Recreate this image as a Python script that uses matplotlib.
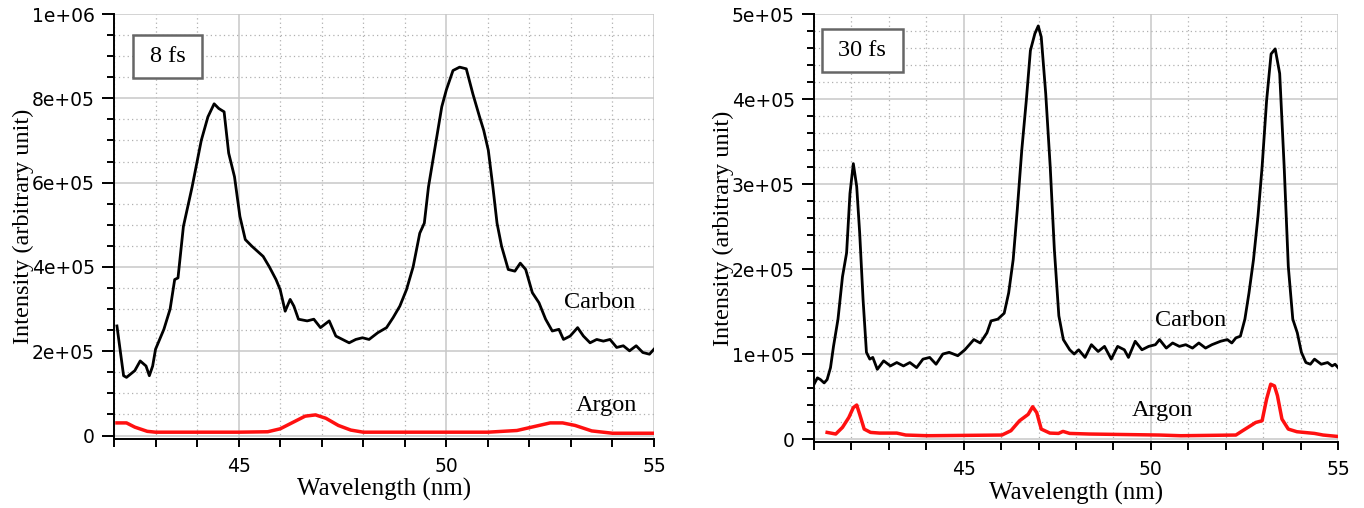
import matplotlib
matplotlib.use("Agg")
import matplotlib.pyplot as plt
from matplotlib.ticker import MultipleLocator, FuncFormatter
from matplotlib.patches import Rectangle

# ---- data (wavelength in nm, intensity in a.u.) ----
# 8 fs panel
wl_c8 = [42.07, 42.23, 42.3, 42.5, 42.63, 42.77, 42.85, 42.93, 43.0, 43.2, 43.35, 43.46, 43.54,
         43.67, 43.88, 44.1, 44.26, 44.41, 44.52, 44.65, 44.76, 44.9, 45.03, 45.16, 45.32, 45.59,
         45.74, 45.9, 46.0, 46.12, 46.24, 46.33, 46.44, 46.65, 46.81, 46.97, 47.18, 47.34, 47.5,
         47.66, 47.82, 47.98, 48.14, 48.35, 48.56, 48.72, 48.88, 49.04, 49.2, 49.36, 49.47, 49.57,
         49.73, 49.89, 50.0, 50.16, 50.32, 50.48, 50.64, 50.8, 50.9, 51.01, 51.12, 51.22, 51.33,
         51.49, 51.65, 51.78, 51.91, 52.07, 52.23, 52.39, 52.55, 52.71, 52.82, 52.98, 53.16, 53.3,
         53.46, 53.62, 53.78, 53.94, 54.1, 54.26, 54.41, 54.57, 54.73, 54.89, 55.0]
carbon_8 = [2.6e5, 1.42e5, 1.38e5, 1.54e5, 1.77e5, 1.65e5, 1.42e5, 1.65e5, 2.05e5, 2.52e5, 3.0e5,
            3.7e5, 3.74e5, 4.96e5, 5.9e5, 7.0e5, 7.56e5, 7.87e5, 7.76e5, 7.68e5, 6.7e5, 6.14e5,
            5.2e5, 4.65e5, 4.49e5, 4.25e5, 4.0e5, 3.7e5, 3.46e5, 2.95e5, 3.23e5, 3.07e5, 2.76e5,
            2.72e5, 2.76e5, 2.56e5, 2.72e5, 2.36e5, 2.28e5, 2.2e5, 2.28e5, 2.32e5, 2.28e5, 2.44e5,
            2.56e5, 2.8e5, 3.07e5, 3.46e5, 4.0e5, 4.8e5, 5.04e5, 5.9e5, 6.85e5, 7.8e5, 8.2e5,
            8.66e5, 8.74e5, 8.7e5, 8.1e5, 7.56e5, 7.24e5, 6.77e5, 5.9e5, 5.04e5, 4.49e5, 3.94e5,
            3.9e5, 4.09e5, 3.94e5, 3.39e5, 3.15e5, 2.76e5, 2.48e5, 2.52e5, 2.28e5, 2.36e5, 2.56e5,
            2.36e5, 2.2e5, 2.28e5, 2.24e5, 2.28e5, 2.09e5, 2.13e5, 2.01e5, 2.13e5, 1.97e5, 1.93e5,
            2.05e5]
wl_a8 = [42.07, 42.3, 42.5, 42.8, 43.0, 44.0, 45.0, 45.7, 46.0, 46.3, 46.6, 46.85, 47.1, 47.4,
         47.7, 48.0, 50.0, 51.0, 51.7, 52.1, 52.5, 52.8, 53.1, 53.5, 54.0, 55.0]
argon_8 = [3.0e4, 3.0e4, 2.0e4, 1.0e4, 8e3, 8e3, 8e3, 9e3, 1.6e4, 3.1e4, 4.6e4, 4.9e4, 4.1e4,
           2.4e4, 1.3e4, 8e3, 8e3, 8e3, 1.2e4, 2.1e4, 3.0e4, 3.0e4, 2.4e4, 1.1e4, 5.5e3, 5.5e3]

# 30 fs panel
wl_c30 = [41.0, 41.09, 41.17, 41.27, 41.35, 41.44, 41.52, 41.64, 41.76, 41.87, 41.96, 42.05, 42.14,
          42.22, 42.31, 42.4, 42.49, 42.57, 42.69, 42.86, 43.04, 43.21, 43.39, 43.56, 43.74, 43.91,
          44.09, 44.26, 44.44, 44.61, 44.84, 45.03, 45.27, 45.44, 45.62, 45.73, 45.91, 46.08,
          46.2, 46.32, 46.43, 46.55, 46.67, 46.78, 46.9, 46.99, 47.07, 47.19, 47.31, 47.42, 47.54,
          47.66, 47.83, 47.95, 48.07, 48.24, 48.41, 48.59, 48.76, 48.94, 49.11, 49.29, 49.4,
          49.58, 49.76, 49.94, 50.12, 50.23, 50.41, 50.58, 50.76, 50.93, 51.11, 51.28, 51.46,
          51.63, 51.86, 52.04, 52.16, 52.27, 52.39, 52.51, 52.62, 52.74, 52.86, 52.97, 53.09,
          53.21, 53.32, 53.44, 53.56, 53.67, 53.79, 53.91, 54.02, 54.14, 54.26, 54.37, 54.55,
          54.72, 54.84, 54.92, 55.0]
carbon_30 = [6.45e4, 7.2e4, 7.0e4, 6.6e4, 7.0e4, 8.4e4, 1.09e5, 1.41e5, 1.91e5, 2.19e5, 2.89e5,
             3.24e5, 2.97e5, 2.42e5, 1.64e5, 1.02e5, 9.4e4, 9.6e4, 8.2e4, 9.2e4, 8.6e4, 9.0e4,
             8.6e4, 9.0e4, 8.4e4, 9.4e4, 9.6e4, 8.8e4, 1.0e5, 1.02e5, 9.8e4, 1.05e5, 1.17e5,
             1.13e5, 1.25e5, 1.39e5, 1.41e5, 1.48e5, 1.72e5, 2.11e5, 2.7e5, 3.4e5, 3.98e5,
             4.57e5, 4.77e5, 4.86e5, 4.73e5, 4.06e5, 3.2e5, 2.23e5, 1.45e5, 1.17e5, 1.05e5,
             1.0e5, 1.05e5, 9.6e4, 1.11e5, 1.03e5, 1.09e5, 9.4e4, 1.09e5, 1.05e5, 9.6e4, 1.15e5,
             1.05e5, 1.09e5, 1.11e5, 1.17e5, 1.07e5, 1.13e5, 1.09e5, 1.11e5, 1.07e5, 1.13e5,
             1.07e5, 1.11e5, 1.15e5, 1.17e5, 1.13e5, 1.19e5, 1.21e5, 1.41e5, 1.72e5, 2.11e5,
             2.62e5, 3.2e5, 3.98e5, 4.53e5, 4.59e5, 4.3e5, 3.2e5, 2.03e5, 1.41e5, 1.25e5, 1.02e5,
             9.0e4, 8.8e4, 9.4e4, 8.8e4, 9.0e4, 8.6e4, 8.8e4, 8.4e4]
wl_a30 = [41.35, 41.58, 41.76, 41.93, 42.05, 42.14, 42.22, 42.34, 42.51, 42.75, 43.21, 43.45,
          44.03, 46.02, 46.26, 46.49, 46.72, 46.84, 46.95, 47.07, 47.3, 47.53, 47.65, 47.83,
          48.35, 50.23, 50.8, 52.27, 52.45, 52.62, 52.8, 52.97, 53.09, 53.2, 53.3, 53.38, 53.5,
          53.67, 53.9, 54.37, 54.6, 55.0]
argon_30 = [7.8e3, 5.9e3, 1.37e4, 2.54e4, 3.7e4, 4.0e4, 2.9e4, 1.17e4, 7.8e3, 7e3, 7e3, 4.7e3,
            3.9e3, 4.7e3, 9.8e3, 2.15e4, 2.9e4, 3.8e4, 3.1e4, 1.17e4, 7e3, 6.6e3, 9e3, 6.6e3,
            5.9e3, 4.7e3, 3.9e3, 4.7e3, 9.8e3, 1.45e4, 1.95e4, 2.15e4, 4.7e4, 6.45e4, 6.25e4,
            5.1e4, 2.35e4, 1.17e4, 8.6e3, 6.6e3, 4.7e3, 3e3]

serif = ["Liberation Serif", "DejaVu Serif"]


def sci_fmt(v, pos):
    if abs(v) < 1:
        return "0"
    return "%.0e" % v


def style_axes(ax, xlim, ylim, ymajor, yminor):
    ax.set_xlim(*xlim)
    ax.set_ylim(*ylim)
    ax.xaxis.set_major_locator(MultipleLocator(5))
    ax.xaxis.set_minor_locator(MultipleLocator(1))
    ax.yaxis.set_major_locator(MultipleLocator(ymajor))
    ax.yaxis.set_minor_locator(MultipleLocator(yminor))
    ax.yaxis.set_major_formatter(FuncFormatter(sci_fmt))
    ax.spines["top"].set_visible(False)
    ax.spines["right"].set_visible(False)
    ax.spines["left"].set_linewidth(1.4)
    ax.spines["bottom"].set_linewidth(1.4)
    ax.grid(which="major", color="#c8c8c8", linestyle="-", linewidth=1.1)
    ax.grid(which="minor", color="#b0b0b0", linestyle=(0, (1, 2.5)), linewidth=0.9)
    ax.set_axisbelow(True)
    ax.tick_params(axis="y", which="major", length=9, width=1.4, labelsize=13.5, pad=5)
    ax.tick_params(axis="y", which="minor", length=5, width=1.4)
    ax.tick_params(axis="x", which="major", length=6, width=1.4, labelsize=13.5, pad=7)
    ax.tick_params(axis="x", which="minor", length=6, width=1.4)
    ax.set_xlabel("Wavelength (nm)", fontsize=18, family=serif, labelpad=2)
    ax.set_ylabel("Intensity (arbitrary unit)", fontsize=17.5, family=serif, labelpad=-2)


def tag_box(ax, x0, y0, w, h, txt):
    ax.add_patch(Rectangle((x0, y0), w, h, transform=ax.transAxes, fill=True,
                           facecolor="white", edgecolor="#666666", linewidth=1.8, zorder=3))
    ax.text(x0 + w / 2, y0 + h / 2, txt, transform=ax.transAxes, ha="center", va="center",
            fontsize=17.5, family=serif, zorder=4)


fig = plt.figure(figsize=(13.64, 5.08), dpi=100)

# left panel: 8 fs
ax1 = fig.add_axes([0.0836, 0.1368, 0.3959, 0.8356])
style_axes(ax1, (42, 55), (-7000, 1e6), 2e5, 5e4)
ax1.plot(wl_c8, carbon_8, color="black", linewidth=2.0, zorder=5)
ax1.plot(wl_a8, argon_8, color="#ff1010", linewidth=2.5, zorder=5)
ax1.text(53.7, 3.15e5, "Carbon", fontsize=17.5, family=serif, ha="center", va="center")
ax1.text(53.85, 7.1e4, "Argon", fontsize=17.5, family=serif, ha="center", va="center")
tag_box(ax1, 0.036, 0.85, 0.126, 0.10, "8 fs")

# right panel: 30 fs
ax2 = fig.add_axes([0.5968, 0.1299, 0.3842, 0.8425])
style_axes(ax2, (41, 55), (-3500, 5e5), 1e5, 2e4)
ax2.plot(wl_c30, carbon_30, color="black", linewidth=2.0, zorder=5)
ax2.plot(wl_a30, argon_30, color="#ff1010", linewidth=2.5, zorder=5)
ax2.text(51.05, 1.39e5, "Carbon", fontsize=17.5, family=serif, ha="center", va="center")
ax2.text(50.3, 3.3e4, "Argon", fontsize=17.5, family=serif, ha="center", va="center")
tag_box(ax2, 0.015, 0.865, 0.154, 0.099, "30 fs")

fig.savefig("out.png", dpi=100)
